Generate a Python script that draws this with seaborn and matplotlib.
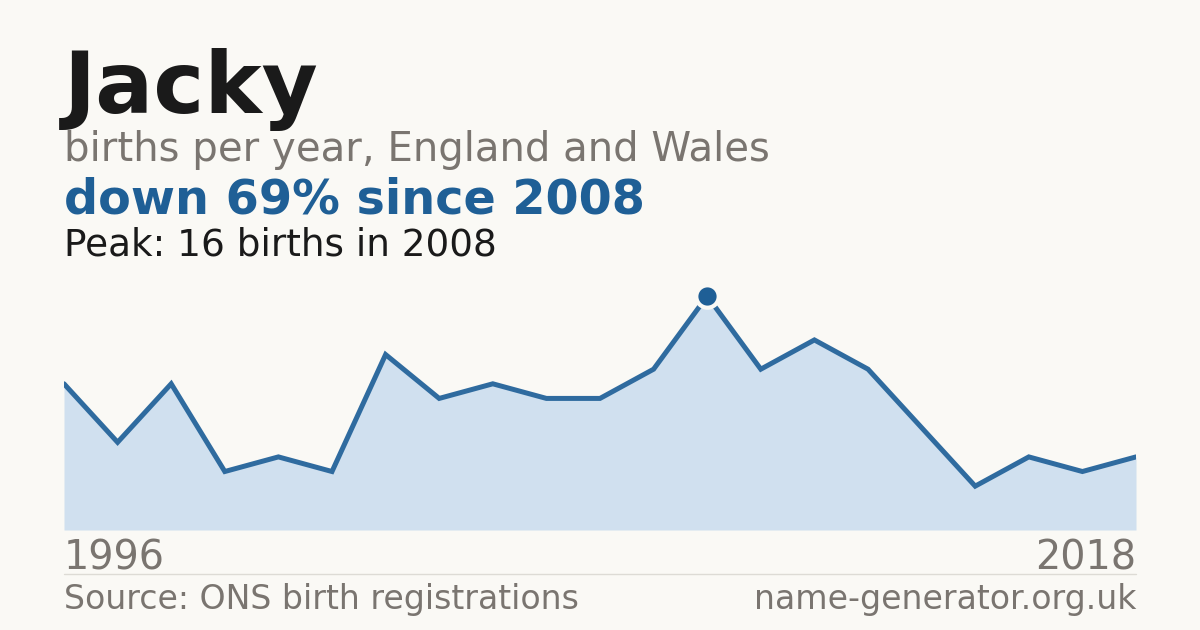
import matplotlib
matplotlib.use("Agg")
import matplotlib.pyplot as plt
import seaborn as sns
import pandas as pd

# Data
years = [1996, 1997, 1998, 1999, 2000, 2001, 2002, 2003, 2004, 2005, 2006,
         2007, 2008, 2009, 2010, 2011, 2012, 2013, 2014, 2015, 2016]
births = [10, 6, 10, 4, 5, 4, 12, 9, 10, 9, 9, 11, 16, 11, 13, 11, 7, 3, 5, 4, 5]
first_label = "1996"
last_label = "2018"

df = pd.DataFrame({"pos": range(len(births)), "births": births})

sns.set_theme(style="white")
plt.rcParams["font.family"] = ["DejaVu Sans"]

bg = "#faf9f5"
blue = "#1f5f96"
line_col = "#2f6b9f"
fill_col = "#d0e0ef"
grey = "#7a7570"
dark = "#1a1a1a"

fig = plt.figure(figsize=(12, 6.3), dpi=100, facecolor=bg)
ax = fig.add_axes([64 / 1200, 100 / 630, 1072 / 1200, 250 / 630])
ax.set_facecolor(bg)

ax.fill_between(df["pos"], df["births"], 0, color=fill_col, linewidth=0)
sns.lineplot(data=df, x="pos", y="births", ax=ax, color=line_col,
             linewidth=3.6, solid_joinstyle="miter")

peak_i = births.index(max(births))
ax.scatter([peak_i], [births[peak_i]], s=260, color=blue,
           edgecolor=bg, linewidth=3, zorder=5)

ax.set_xlim(0, len(births) - 1)
ax.set_ylim(0, 17.1)
ax.axis("off")

# Texts
fig.text(64 / 1200, 1 - 113 / 630, "Jacky", fontsize=62, fontweight="bold",
         color=dark, va="baseline")
fig.text(64 / 1200, 1 - 161 / 630, "births per year, England and Wales",
         fontsize=29, color=grey, va="baseline")
fig.text(64 / 1200, 1 - 214 / 630, "down 69% since 2008", fontsize=34.4,
         fontweight="bold", color=blue, va="baseline")
fig.text(64 / 1200, 1 - 255 / 630, "Peak: 16 births in 2008", fontsize=26.9,
         color=dark, va="baseline")

fig.text(64 / 1200, 1 - 569 / 630, first_label, fontsize=28.6, color=grey,
         va="baseline")
fig.text(1136 / 1200, 1 - 569 / 630, last_label, fontsize=28.6, color=grey,
         va="baseline", ha="right")

fig.add_artist(plt.Line2D([64 / 1200, 1136 / 1200], [1 - 574 / 630, 1 - 574 / 630],
                          color="#dddbd5", linewidth=1))

fig.text(64 / 1200, 1 - 609 / 630, "Source: ONS birth registrations",
         fontsize=23.9, color=grey, va="baseline")
fig.text(1136 / 1200, 1 - 609 / 630, "name-generator.org.uk", fontsize=23.9,
         color=grey, va="baseline", ha="right")

fig.savefig("out.png", dpi=100, facecolor=bg)
